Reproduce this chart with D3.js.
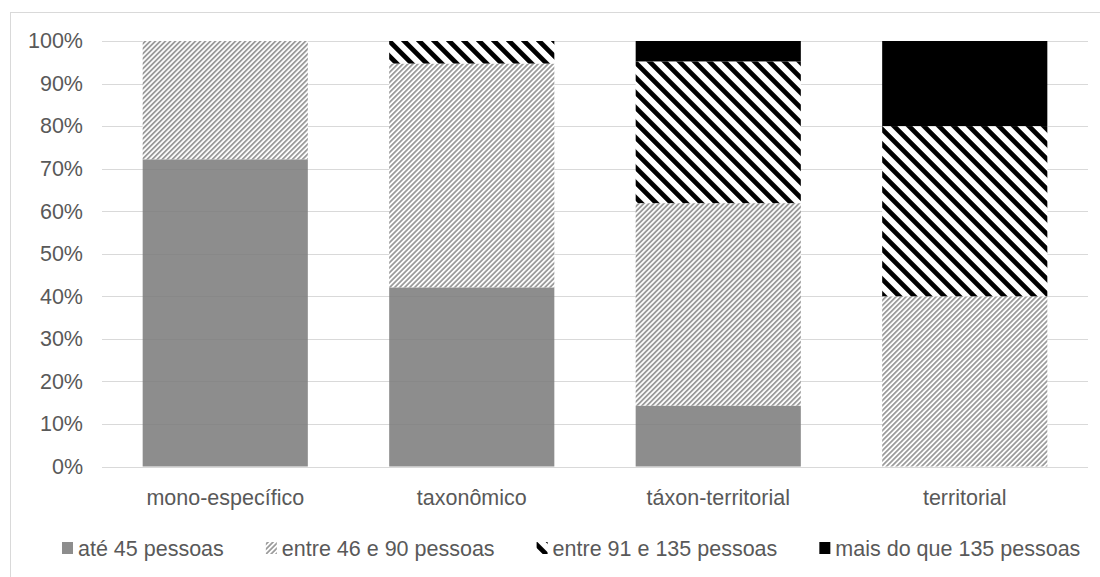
<!DOCTYPE html>
<html>
<head>
<meta charset="utf-8">
<script src="https://cdn.jsdelivr.net/npm/d3@7"></script>
<style>
  html, body { margin: 0; padding: 0; background: #fff; }
  svg { display: block; }
  text { font-family: "Liberation Sans", Arial, sans-serif; fill: #595959; }
</style>
</head>
<body>
<svg id="chart" width="1100" height="577"></svg>
<script>
// Categories (x axis)
const categories = ["mono-específico", "taxonômico", "táxon-territorial", "territorial"];

// Series names (legend)
const seriesNames = ["até 45 pessoas", "entre 46 e 90 pessoas", "entre 91 e 135 pessoas", "mais do que 135 pessoas"];

// Share of each group per category (%)
const ate45      = [72.2, 42.1, 14.3, 0];
const entre46_90 = [27.8, 52.6, 47.6, 40];
const entre91_135 = [0,    5.3, 33.3, 40];
const mais135    = [0,    0,    4.8, 20];

// Y tick values (fractions)
const yTicks = [0, 0.1, 0.2, 0.3, 0.4, 0.5, 0.6, 0.7, 0.8, 0.9, 1.0];

const W = 1100, H = 577;
const svg = d3.select("#chart");

// Fill patterns
const defs = svg.append("defs");
const fine = defs.append("pattern")
  .attr("id", "hatchFine").attr("patternUnits", "userSpaceOnUse")
  .attr("width", 3.54).attr("height", 3.54)
  .attr("patternTransform", "rotate(45)");
fine.append("rect").attr("width", 3.54).attr("height", 3.54).attr("fill", "#fff");
fine.append("rect").attr("width", 1.8).attr("height", 3.54).attr("fill", "#9b9b9b");

const wide = defs.append("pattern")
  .attr("id", "hatchWide").attr("patternUnits", "userSpaceOnUse")
  .attr("width", 10.6).attr("height", 10.6)
  .attr("patternTransform", "rotate(-45)");
wide.append("rect").attr("width", 10.6).attr("height", 10.6).attr("fill", "#fff");
wide.append("rect").attr("width", 4.8).attr("height", 10.6).attr("fill", "#000");

const fills = [
  { fill: "#7c7c7c", opacity: 0.87 },
  { fill: "url(#hatchFine)", opacity: 1 },
  { fill: "url(#hatchWide)", opacity: 1 },
  { fill: "#000", opacity: 1 }
];

// Chart frame
svg.append("rect")
  .attr("x", 10.5).attr("y", 12.5)
  .attr("width", W).attr("height", H)
  .attr("fill", "none").attr("stroke", "#d9d9d9").attr("stroke-width", 1);

const x = d3.scaleBand()
  .domain(categories)
  .range([102, 1088])
  .paddingInner(0.33)
  .paddingOuter(0.165);

const y = d3.scaleLinear().domain([0, 1]).range([466.5, 41]);

// Gridlines
svg.append("g")
  .selectAll("line")
  .data(yTicks)
  .join("line")
  .attr("x1", 102).attr("x2", 1088)
  .attr("y1", d => Math.round(y(d)) + 0.5)
  .attr("y2", d => Math.round(y(d)) + 0.5)
  .attr("stroke", "#d9d9d9").attr("stroke-width", 1.2);

// Stacked data
const seriesValues = [ate45, entre46_90, entre91_135, mais135];
const rows = categories.map((c, i) => {
  const r = { cat: c };
  seriesNames.forEach((s, k) => { r[s] = seriesValues[k][i] / 100; });
  return r;
});
const stacked = d3.stack().keys(seriesNames)(rows);

svg.append("g")
  .selectAll("g")
  .data(stacked)
  .join("g")
  .attr("fill", (d, k) => fills[k].fill)
  .attr("fill-opacity", (d, k) => fills[k].opacity)
  .selectAll("rect")
  .data(d => d.filter(p => p[1] - p[0] > 0))
  .join("rect")
  .attr("x", d => x(d.data.cat))
  .attr("width", x.bandwidth())
  .attr("y", d => y(d[1]))
  .attr("height", d => y(d[0]) - y(d[1]));

// Y axis labels
const yAxis = d3.axisLeft(y)
  .tickValues(yTicks)
  .tickFormat(d3.format(".0%"))
  .tickSize(0)
  .tickPadding(0);
const ya = svg.append("g").attr("transform", "translate(83,0)").call(yAxis);
ya.select(".domain").remove();
ya.selectAll("text")
  .attr("font-size", "21.5px")
  .attr("font-family", "Liberation Sans, Arial, sans-serif")
  .attr("fill", "#595959");

// X axis labels
const xAxis = d3.axisBottom(x).tickSize(0).tickPadding(0);
const xa = svg.append("g").attr("transform", "translate(0,490)").call(xAxis);
xa.select(".domain").remove();
xa.selectAll("text")
  .attr("font-size", "21.5px")
  .attr("font-family", "Liberation Sans, Arial, sans-serif")
  .attr("fill", "#595959");

// Legend
const legend = svg.append("g").attr("transform", "translate(0,548)");
let lx = 62;
seriesNames.forEach((name, k) => {
  const g = legend.append("g").attr("transform", `translate(${lx},0)`);
  g.append("rect")
    .attr("x", 0).attr("y", -6).attr("width", 11).attr("height", 12)
    .attr("fill", fills[k].fill).attr("fill-opacity", fills[k].opacity);
  const t = g.append("text")
    .attr("x", 16).attr("y", 0).attr("dy", "0.35em")
    .attr("font-size", "21.5px")
    .text(name);
  lx += 16 + t.node().getComputedTextLength() + 42;
});
</script>
</body>
</html>
